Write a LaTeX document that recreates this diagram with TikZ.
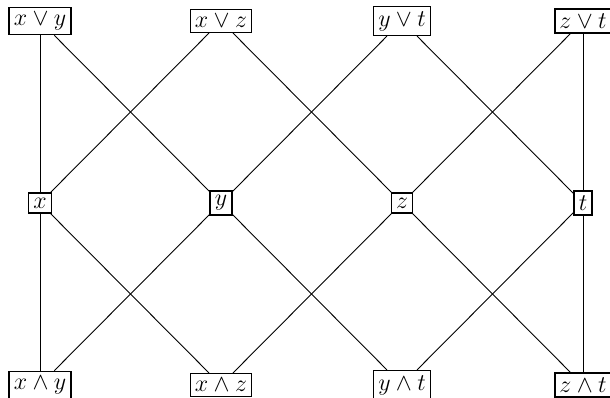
\documentclass[tikz,border=0pt]{standalone}
\begin{document}
\begin{tikzpicture}[x=0.5pt,y=-0.5pt,
  lat/.style={draw, line width=0.75pt, inner sep=2.3pt, font=\large},
  edge/.style={line width=0.45pt}]
\useasboundingbox (0,0) rectangle (610,397);
% top row
\node[lat] (xy) at (40,21) {$x \vee y$};
\node[lat] (xz) at (221,21) {$x \vee z$};
\node[lat] (yt) at (402,21) {$y \vee t$};
\node[lat] (zt) at (583,21) {$z \vee t$};
% middle row
\node[lat] (x) at (40,203) {$x$};
\node[lat] (y) at (221,203) {$y$};
\node[lat] (z) at (402,203) {$z$};
\node[lat] (t) at (583,203) {$t$};
% bottom row
\node[lat] (mxy) at (40,385) {$x \wedge y$};
\node[lat] (mxz) at (221,385) {$x \wedge z$};
\node[lat] (myt) at (402,385) {$y \wedge t$};
\node[lat] (mzt) at (583,385) {$z \wedge t$};
% edges
\draw[edge] (xy) -- (x);
\draw[edge] (xy) -- (y);
\draw[edge] (xz) -- (x);
\draw[edge] (xz) -- (z);
\draw[edge] (yt) -- (y);
\draw[edge] (yt) -- (t);
\draw[edge] (zt) -- (z);
\draw[edge] (zt) -- (t);
\draw[edge] (mxy) -- (x);
\draw[edge] (mxy) -- (y);
\draw[edge] (mxz) -- (x);
\draw[edge] (mxz) -- (z);
\draw[edge] (myt) -- (y);
\draw[edge] (myt) -- (t);
\draw[edge] (mzt) -- (z);
\draw[edge] (mzt) -- (t);
\end{tikzpicture}
\end{document}
